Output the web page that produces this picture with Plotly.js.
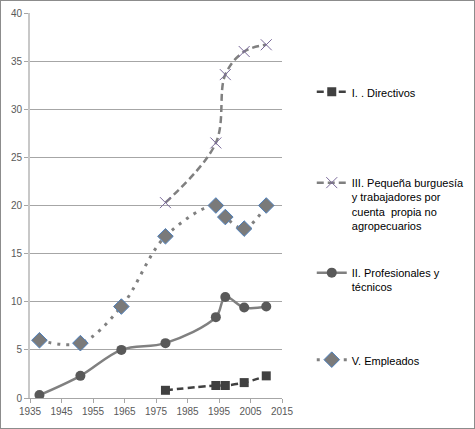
<!DOCTYPE html>
<html>
<head>
<meta charset="utf-8">
<script src="https://cdn.plot.ly/plotly-3.0.1.min.js"></script>
<style>
  html, body { margin: 0; padding: 0; background: #fff; }
  #chart { width: 473px; height: 427px; border: 1px solid #8c8c8c; }
</style>
</head>
<body>
<div id="chart"></div>
<script>
// ── Data ─────────────────────────────────────────────────────
const YEARS_DIR  = [1978, 1994, 1997, 2003, 2010];
const DIRECTIVOS = [0.8, 1.3, 1.3, 1.6, 2.3];

const YEARS_PEQ  = [1978, 1994, 1997, 2003, 2010];
const PEQUENA    = [20.3, 26.5, 33.6, 36.0, 36.7];

const YEARS_PRO  = [1938, 1951, 1964, 1978, 1994, 1997, 2003, 2010];
const PROFES     = [0.3, 2.3, 5.0, 5.7, 8.4, 10.5, 9.4, 9.5];

const YEARS_EMP  = [1938, 1951, 1964, 1978, 1994, 1997, 2003, 2010];
const EMPLEADOS  = [6.0, 5.7, 9.5, 16.8, 20.0, 18.8, 17.6, 20.0];

const NAMES = [
  'I. . Directivos',
  'III. Pequeña burguesía<br>y trabajadores por<br>cuenta  propia no<br>agropecuarios',
  'II. Profesionales y<br>técnicos',
  'V. Empleados',
];

const X_TICKS = [1935, 1945, 1955, 1965, 1975, 1985, 1995, 2005, 2015];
const Y_TICKS = [0, 5, 10, 15, 20, 25, 30, 35, 40];

// ── Colours ──────────────────────────────────────────────────
const C = {
  dark:   '#404040',
  grey:   '#808080',
  mid:    '#595959',
  purple: '#7a6a9a',
  blue:   '#4f81bd',
  grid:   '#a6a6a6',
  text:   '#595959',
};

const traces = [
  {
    x: YEARS_DIR, y: DIRECTIVOS, name: NAMES[0], legend: 'legend',
    mode: 'lines+markers', type: 'scatter',
    line: { color: C.dark, width: 2.5, dash: '7px,4px', shape: 'spline' },
    marker: { symbol: 'square', size: 9, color: C.dark },
  },
  {
    x: YEARS_PEQ, y: PEQUENA, name: NAMES[1], legend: 'legend2',
    mode: 'lines+markers', type: 'scatter',
    line: { color: C.grey, width: 2.5, dash: '7px,4px', shape: 'spline' },
    marker: { symbol: 'x-thin', size: 11, line: { color: C.purple, width: 1 } },
  },
  {
    x: YEARS_PRO, y: PROFES, name: NAMES[2], legend: 'legend3',
    mode: 'lines+markers', type: 'scatter',
    line: { color: C.grey, width: 2.5, shape: 'spline' },
    marker: { symbol: 'circle', size: 10, color: C.mid },
  },
  {
    x: YEARS_EMP, y: EMPLEADOS, name: NAMES[3], legend: 'legend4',
    mode: 'lines+markers', type: 'scatter',
    line: { color: C.grey, width: 3, dash: '3px,6px', shape: 'spline' },
    marker: { symbol: 'diamond', size: 12, color: '#7a7a7a', line: { color: C.blue, width: 1 } },
  },
];

// one legend box per series, placed where the reference puts each entry
const legendBox = (y) => ({
  xref: 'container', yref: 'container',
  x: 0.657, y, xanchor: 'left', yanchor: 'top', valign: 'top',
  itemwidth: 30,
  font: { size: 11, color: '#000' },
  bgcolor: 'rgba(0,0,0,0)',
});

const layout = {
  width: 473, height: 427,
  paper_bgcolor: '#fff', plot_bgcolor: '#fff',
  font: { family: 'Liberation Sans, Arial, sans-serif', size: 10, color: C.text },
  margin: { t: 12, r: 192, b: 30, l: 29 },
  showlegend: true,
  xaxis: {
    range: [1935, 2015], tickvals: X_TICKS, ticks: 'outside', ticklen: 4,
    tickcolor: C.grid, showgrid: false, zeroline: false,
    showline: true, linecolor: C.grid, linewidth: 1,
    tickfont: { size: 10, color: C.text },
  },
  yaxis: {
    range: [0, 40], tickvals: Y_TICKS, ticks: 'outside', ticklen: 4,
    tickcolor: C.grid, gridcolor: C.grid, gridwidth: 1, zeroline: false,
    showline: true, linecolor: '#c8c8c8', linewidth: 2,
    tickfont: { size: 10, color: C.text },
  },
  legend:  legendBox(0.8197),
  legend2: legendBox(0.6066),
  legend3: legendBox(0.3958),
  legend4: legendBox(0.1920),
};

Plotly.newPlot('chart', traces, layout, { displayModeBar: false, staticPlot: true });
</script>
</body>
</html>
